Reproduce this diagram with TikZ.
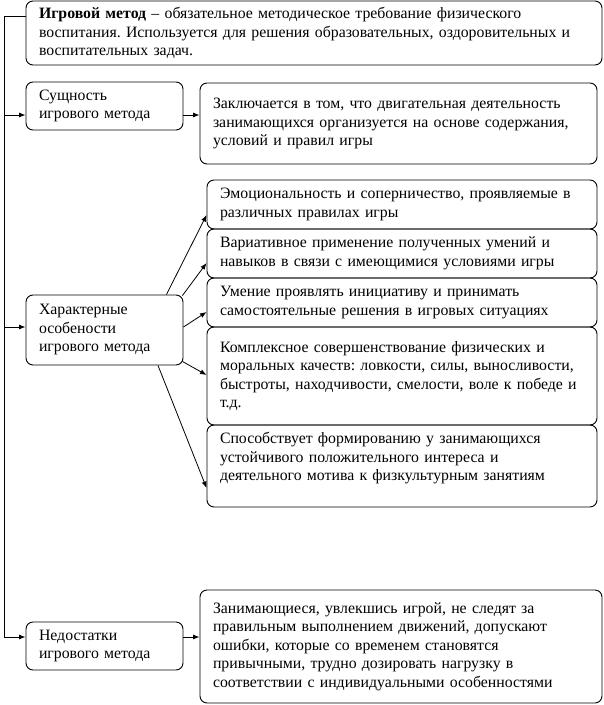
\documentclass[tikz,border=0pt]{standalone}
\usepackage{fontspec}
\setmainfont{Liberation Serif}
\usetikzlibrary{arrows.meta}
\frenchspacing
\begin{document}
\begin{tikzpicture}[x=1pt,y=-1pt,
  box/.style={draw, line width=0.9pt, rounded corners=7pt, inner xsep=13pt, inner ysep=2pt,
    align=left, font=\fontsize{15.8}{18.5}\selectfont\frenchspacing, anchor=center},
  arr/.style={-{Latex[length=6.5pt,width=5pt]}, line width=0.8pt},
  ln/.style={line width=0.9pt}]
\useasboundingbox (0,0) rectangle (604,705);
\node[box, text width=550pt, minimum height=64pt] (top) at (314,33)
  {\textbf{Игровой метод} – обязательное методическое требование физического\\
   воспитания. Используется для решения образовательных, оздоровительных и\\
   воспитательных задач.};
\node[box, text width=131pt, minimum height=48pt] (s) at (104.5,106)
  {Сущность\\игрового метода};
\node[box, text width=371pt, minimum height=81pt] (z) at (398.5,123.5)
  {Заключается в том, что двигательная деятельность\\
   занимающихся организуется на основе содержания,\\
   условий и правил игры};
\node[box, text width=364pt, minimum height=49pt] (e1) at (402,204.5)
  {Эмоциональность и соперничество, проявляемые в\\различных правилах игры};
\node[box, text width=364pt, minimum height=49pt] (e2) at (402,253.5)
  {Вариативное применение полученных умений и\\навыков в связи с имеющимися условиями игры};
\node[box, text width=364pt, minimum height=49pt] (e3) at (402,302.5)
  {Умение проявлять инициативу и принимать\\самостоятельные решения в игровых ситуациях};
\node[box, text width=364pt, minimum height=98pt] (e4) at (402,376)
  {Комплексное совершенствование физических и\\
   моральных качеств: ловкости, силы, выносливости,\\
   быстроты, находчивости, смелости, воле к победе и\\
   т.д.};
\node[box, text width=364pt, minimum height=82pt] (e5) at (402,466)
  {Способствует формированию у занимающихся\\
   устойчивого положительного интереса и\\
   деятельного мотива к физкультурным занятиям\\
   \mbox{}};
\node[box, text width=131pt, minimum height=70pt] (h) at (104.5,330)
  {Характерные\\особености\\игрового метода};
\node[box, text width=131pt, minimum height=48pt] (n) at (104.5,646)
  {Недостатки\\игрового метода};
\node[box, text width=376pt, minimum height=113pt] (d) at (401,646.5)
  {Занимающиеся, увлекшись игрой, не следят за\\
   правильным выполнением движений, допускают\\
   ошибки, которые со временем становятся\\
   привычными, трудно дозировать нагрузку в\\
   соответствии с индивидуальными особенностями};
\coordinate (t0) at (4,16);
\coordinate (t1) at (4,115);
\coordinate (t2) at (4,327);
\coordinate (t3) at (4,637);
\draw[ln] (t0) -- (t3);
\draw[ln] (t0) -- (t0 -| top.west);
\draw[arr] (t1) -- (t1 -| s.west);
\draw[arr] (t2) -- (t2 -| h.west);
\draw[arr] (t3) -- (t3 -| n.west);
\draw[arr] (s.east |- t1) -- (z.west |- t1);
\draw[arr] (n.east |- t3) -- (d.west |- t3);
\draw[arr] ([xshift=-17pt]h.north east) -- ([yshift=-10.5pt]e1.west);
\draw[arr] ([xshift=-1pt,yshift=-1pt]h.north east) -- ([yshift=-9.5pt]e2.west);
\draw[arr] ([yshift=3pt]h.east) -- ([yshift=-9.5pt]e3.west);
\draw[arr] ([xshift=-1pt,yshift=4pt]h.south east) -- ([yshift=1pt]e4.west);
\draw[arr] ([xshift=53.5pt]h.south) -- ([yshift=-22pt]e5.west);
\end{tikzpicture}
\end{document}
